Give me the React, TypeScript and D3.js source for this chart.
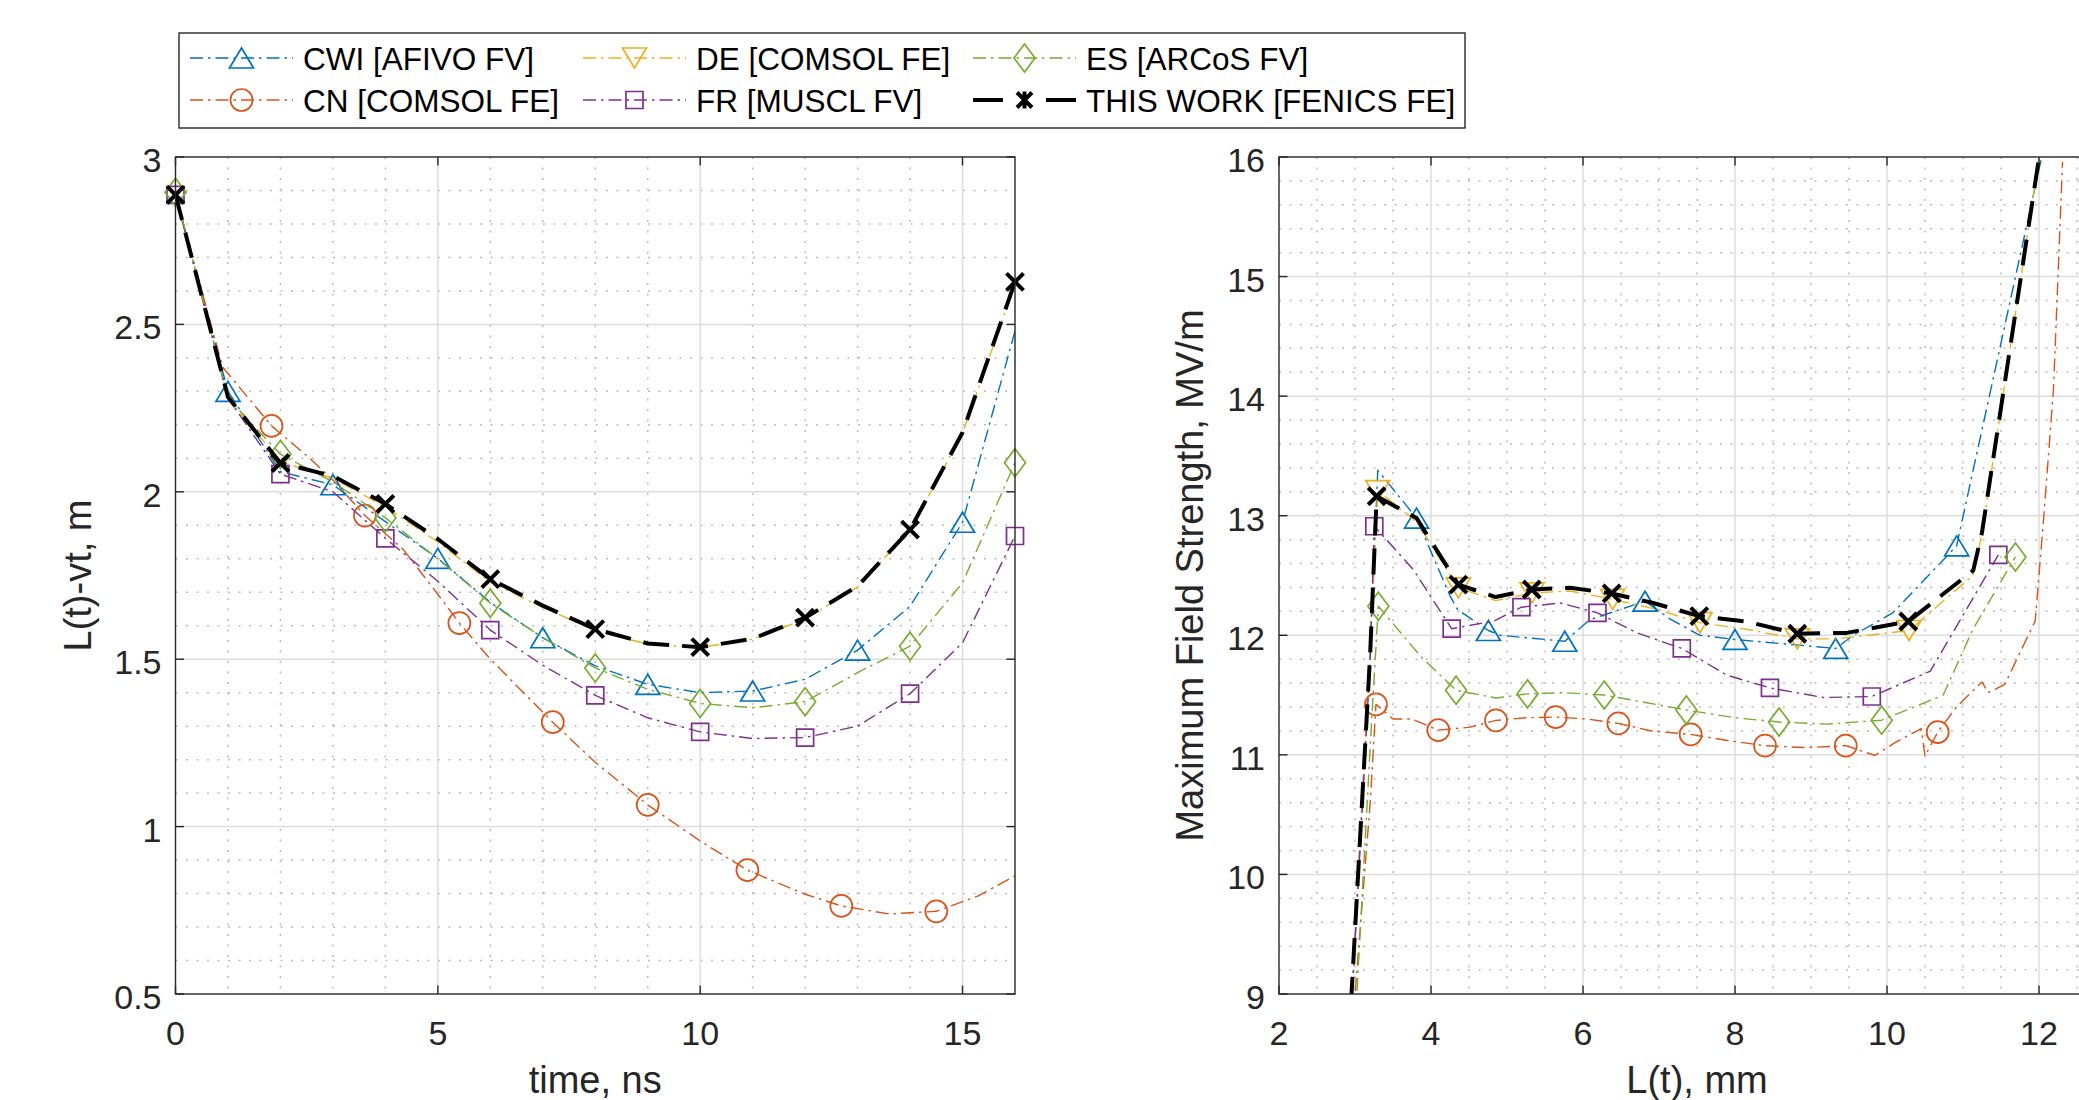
import React, { useEffect, useRef } from "react";
import * as d3 from "d3";

// ---------- left panel: L(t)-vt, m versus time, ns ----------
const timeNs = [0, 1, 2, 3, 4, 5, 6, 7, 8, 9, 10, 11, 12, 13, 14, 15, 16];
const cwiLeft = [2.887, 2.3, 2.06, 2.021, 1.911, 1.801, 1.67, 1.564, 1.48, 1.425, 1.4, 1.405, 1.44, 1.527, 1.658, 1.909, 2.48];
const deLeft = [2.887, 2.28, 2.09, 2.04, 1.955, 1.85, 1.73, 1.655, 1.585, 1.545, 1.535, 1.56, 1.62, 1.715, 1.885, 2.175, 2.62];
const frLeft = [2.887, 2.28, 2.053, 2.0, 1.861, 1.733, 1.587, 1.482, 1.392, 1.325, 1.283, 1.263, 1.266, 1.3, 1.397, 1.549, 1.868];
const esLeft = [2.895, 2.28, 2.112, 2.03, 1.922, 1.8, 1.667, 1.565, 1.474, 1.41, 1.368, 1.355, 1.373, 1.46, 1.539, 1.728, 2.087];
const workLeft = [2.887, 2.283, 2.086, 2.047, 1.964, 1.859, 1.739, 1.66, 1.59, 1.547, 1.536, 1.561, 1.624, 1.718, 1.887, 2.177, 2.627];
const cnTime = [0, 0.9, 1.83, 2.56, 3.02, 3.61, 4.34, 4.97, 5.41, 6.0, 7.19, 8.0, 9.0, 10.0, 10.9, 12.0, 12.69, 13.6, 14.5, 15.3, 16];
const cnLeft = [2.887, 2.372, 2.197, 2.1, 2.032, 1.929, 1.828, 1.7, 1.608, 1.5, 1.312, 1.192, 1.065, 0.957, 0.87, 0.798, 0.763, 0.739, 0.747, 0.793, 0.853];

const oddMarks = [1, 3, 5, 7, 9, 11, 13, 15];
const evenMarks = [0, 2, 4, 6, 8, 10, 12, 14, 16];
const cnLeftMarks = [2, 5, 8, 10, 12, 14, 16, 18];

// ---------- right panel: max field strength, MV/m versus L(t), mm ----------
const cwiL = [2.93, 3.2, 3.3, 3.81, 4.25, 4.35, 4.755, 4.91, 5.76, 6.09, 6.816, 7.16, 7.54, 8.0, 9.325, 9.557, 10.08, 10.917, 10.98, 12.07];
const cwiE = [8.6, 11.9, 13.38, 12.98, 12.33, 12.215, 12.04, 12.0, 11.95, 12.13, 12.285, 12.13, 12.0, 11.965, 11.89, 12.0, 12.19, 12.748, 12.935, 16.1];
const cwiMarks = [3, 6, 8, 10, 13, 14, 17];

const cnL = [2.95, 3.2, 3.276, 3.5, 3.75, 4.096, 4.5, 4.855, 5.25, 5.64, 6.05, 6.465, 6.9, 7.417, 7.9, 8.395, 8.95, 9.457, 9.84, 10.1, 10.45, 10.5, 10.667, 10.92, 11.25, 11.33, 11.55, 11.95, 12.06, 12.19, 12.31];
const cnE = [8.6, 10.6, 11.422, 11.3, 11.3, 11.207, 11.23, 11.288, 11.31, 11.316, 11.3, 11.263, 11.2, 11.171, 11.12, 11.077, 11.06, 11.077, 10.995, 11.1, 11.22, 10.99, 11.19, 11.405, 11.61, 11.52, 11.59, 12.12, 12.97, 14.05, 15.96];
const cnMarks = [2, 5, 7, 9, 11, 13, 15, 17, 22];

const deL = [2.93, 3.2, 3.3, 3.81, 4.36, 4.85, 5.33, 5.83, 6.39, 6.95, 7.54, 8.15, 8.82, 9.34, 10.29, 11.13, 11.25, 12.05];
const deE = [8.6, 11.9, 13.21, 12.95, 12.397, 12.29, 12.355, 12.37, 12.3, 12.22, 12.105, 12.05, 11.97, 11.97, 12.04, 12.5, 12.85, 16.2];
const deMarks = [2, 4, 6, 8, 10, 12, 14];

const frL = [2.93, 3.2, 3.254, 3.767, 4.272, 4.83, 5.19, 5.7, 6.19, 6.71, 7.3, 7.89, 8.46, 9.16, 9.8, 10.57, 11.465];
const frE = [8.6, 11.8, 12.912, 12.55, 12.055, 12.12, 12.235, 12.27, 12.188, 12.02, 11.89, 11.667, 11.56, 11.48, 11.488, 11.7, 12.673];
const frMarks = [2, 4, 6, 8, 10, 12, 14, 16];

const esL = [2.99, 3.22, 3.307, 3.855, 4.33, 4.86, 5.27, 5.74, 6.28, 6.84, 7.36, 8.0, 8.58, 9.21, 9.93, 10.74, 11.13, 11.69];
const esE = [8.6, 11.3, 12.243, 11.83, 11.54, 11.475, 11.51, 11.52, 11.5, 11.436, 11.375, 11.31, 11.275, 11.257, 11.29, 11.5, 12.05, 12.655];
const esMarks = [2, 4, 6, 8, 10, 12, 14, 17];

const workL = [2.92, 3.2, 3.285, 3.81, 4.36, 4.85, 5.325, 5.83, 6.377, 6.925, 7.53, 8.15, 8.82, 9.47, 10.28, 11.135, 11.25, 12.05];
const workE = [8.6, 11.85, 13.163, 12.98, 12.424, 12.32, 12.383, 12.397, 12.35, 12.27, 12.16, 12.115, 12.013, 12.02, 12.115, 12.543, 12.86, 16.2];
const workMarks = [2, 4, 6, 8, 10, 12, 14];

// ---------- ticks and labels ----------
const leftTicksX = [0, 5, 10, 15];
const leftTicksY = [0.5, 1, 1.5, 2, 2.5, 3];
const rightTicksX = [2, 4, 6, 8, 10, 12];
const rightTicksY = [9, 10, 11, 12, 13, 14, 15, 16];

const legendNames = ["CWI [AFIVO FV]", "CN [COMSOL FE]", "DE [COMSOL FE]", "FR [MUSCL FV]", "ES [ARCoS FV]", "THIS WORK [FENICS FE]"];

const FONT = "'Liberation Sans', Arial, Helvetica, sans-serif";
const AXIS = "#262626";
const BLUE = "#0072BD";
const ORANGE = "#D95319";
const YELLOW = "#EDB120";
const PURPLE = "#7E2F8E";
const GREEN = "#77AC30";
const DASHDOT = "13 5 2.5 5";
const DASH = "26 13";

function markerPath(kind: string): string {
  switch (kind) {
    case "triangle":
      return "M0,-10L12,10L-12,10Z";
    case "triangleDown":
      return "M0,10L12,-10L-12,-10Z";
    case "circle":
      return "M11,0A11,11 0 1,1 -11,0A11,11 0 1,1 11,0Z";
    case "square":
      return "M-8.5,-8.5H8.5V8.5H-8.5Z";
    case "diamond":
      return "M0,-14L10.5,0L0,14L-10.5,0Z";
    case "cross":
      return "M-8.5,-8.5L8.5,8.5M-8.5,8.5L8.5,-8.5";
    case "asterisk":
      return "M-7.5,-7.5L7.5,7.5M-7.5,7.5L7.5,-7.5M0,-8.5L0,8.5";
  }
  return "";
}

function drawMarker(g: any, kind: string, cx: number, cy: number, color: string, thick: boolean) {
  g.append("path")
    .attr("d", markerPath(kind))
    .attr("transform", `translate(${cx},${cy})`)
    .attr("fill", "none")
    .attr("stroke", color)
    .attr("stroke-width", thick ? 4 : 1.7)
    .attr("stroke-linejoin", "miter");
}

function steps(a: number, b: number, step: number) {
  const n = Math.round((b - a) / step);
  return d3.range(n + 1).map((i) => +(a + i * step).toFixed(6));
}

function drawPanel(svg: any, p: any) {
  const x = d3.scaleLinear().domain(p.xDomain).range([p.left, p.right]);
  const y = d3.scaleLinear().domain(p.yDomain).range([p.bottom, p.top]);

  svg
    .append("clipPath")
    .attr("id", p.id)
    .append("rect")
    .attr("x", p.left)
    .attr("y", p.top)
    .attr("width", p.right - p.left)
    .attr("height", p.bottom - p.top);

  const near = (a: number, list: number[]) => list.some((t) => Math.abs(t - a) < 1e-6);
  const inside = (v: number, dom: number[]) => v > dom[0] + 1e-6 && v < dom[1] - 1e-6;

  // minor grid (dotted)
  const grid = svg.append("g");
  steps(p.xDomain[0], p.xDomain[1], p.xMinor)
    .filter((v) => inside(v, p.xDomain) && !near(v, p.xTicks))
    .forEach((v) => {
      grid.append("line").attr("x1", x(v)).attr("x2", x(v)).attr("y1", p.top).attr("y2", p.bottom)
        .attr("stroke", "#bcbcbc").attr("stroke-width", 1.5).attr("stroke-dasharray", "2 8.5");
    });
  steps(p.yDomain[0], p.yDomain[1], p.yMinor)
    .filter((v) => inside(v, p.yDomain) && !near(v, p.yTicks))
    .forEach((v) => {
      grid.append("line").attr("x1", p.left).attr("x2", p.right).attr("y1", y(v)).attr("y2", y(v))
        .attr("stroke", "#bcbcbc").attr("stroke-width", 1.5).attr("stroke-dasharray", "2 8.5");
    });
  // major grid
  p.xTicks.filter((v: number) => inside(v, p.xDomain)).forEach((v: number) => {
    grid.append("line").attr("x1", x(v)).attr("x2", x(v)).attr("y1", p.top).attr("y2", p.bottom)
      .attr("stroke", "#dddddd").attr("stroke-width", 1.5);
  });
  p.yTicks.filter((v: number) => inside(v, p.yDomain)).forEach((v: number) => {
    grid.append("line").attr("x1", p.left).attr("x2", p.right).attr("y1", y(v)).attr("y2", y(v))
      .attr("stroke", "#dddddd").attr("stroke-width", 1.5);
  });

  // series: each line followed by its markers, in plot order
  const gen = d3
    .line<number[]>()
    .x((d) => x(d[0]))
    .y((d) => y(d[1]));
  p.series.forEach((s: any) => {
    const pts = s.xs.map((v: number, i: number) => [v, s.ys[i]]);
    svg
      .append("path")
      .attr("d", gen(pts))
      .attr("clip-path", `url(#${p.id})`)
      .attr("fill", "none")
      .attr("stroke", s.color)
      .attr("stroke-width", s.thick ? 4 : 1.4)
      .attr("stroke-dasharray", s.thick ? DASH : DASHDOT)
      .attr("stroke-linejoin", "round");
    const mg = svg.append("g");
    s.marks.forEach((i: number) => {
      drawMarker(mg, s.marker, x(s.xs[i]), y(s.ys[i]), s.color, !!s.thick);
    });
  });

  // box and ticks
  const axis = svg.append("g").attr("stroke", AXIS).attr("stroke-width", 1.4).attr("fill", "none");
  axis.append("rect").attr("x", p.left).attr("y", p.top).attr("width", p.right - p.left).attr("height", p.bottom - p.top);
  const tl = 8.5;
  p.xTicks.forEach((v: number) => {
    axis.append("line").attr("x1", x(v)).attr("x2", x(v)).attr("y1", p.bottom).attr("y2", p.bottom - tl);
    axis.append("line").attr("x1", x(v)).attr("x2", x(v)).attr("y1", p.top).attr("y2", p.top + tl);
  });
  p.yTicks.forEach((v: number) => {
    axis.append("line").attr("x1", p.left).attr("x2", p.left + tl).attr("y1", y(v)).attr("y2", y(v));
    axis.append("line").attr("x1", p.right).attr("x2", p.right - tl).attr("y1", y(v)).attr("y2", y(v));
  });

  // tick labels
  const labels = svg.append("g").attr("font-family", FONT).attr("font-size", 34).attr("fill", AXIS);
  p.xTicks.forEach((v: number) => {
    labels.append("text").attr("x", x(v)).attr("y", p.bottom + 51).attr("text-anchor", "middle").text(String(v));
  });
  p.yTicks.forEach((v: number) => {
    labels.append("text").attr("x", p.left - 14).attr("y", y(v) + 15).attr("text-anchor", "end").text(String(v));
  });

  // axis titles
  const titles = svg.append("g").attr("font-family", FONT).attr("font-size", 38).attr("fill", AXIS);
  titles.append("text").attr("x", (p.left + p.right) / 2).attr("y", 1093).attr("text-anchor", "middle").text(p.xLabel);
  titles
    .append("text")
    .attr("transform", `translate(${p.yLabelX},${(p.top + p.bottom) / 2}) rotate(-90)`)
    .attr("text-anchor", "middle")
    .text(p.yLabel);
}

function drawLegend(svg: any) {
  const box = { x: 179, y: 33, w: 1286, h: 95 };
  const g = svg.append("g");
  g.append("rect").attr("x", box.x).attr("y", box.y).attr("width", box.w).attr("height", box.h)
    .attr("fill", "#fff").attr("stroke", AXIS).attr("stroke-width", 1.4);
  const cols = [190, 583, 973];
  const textX = [303, 696, 1086];
  const rows = [58, 100];
  const entries = [
    { color: BLUE, marker: "triangle", thick: false },
    { color: ORANGE, marker: "circle", thick: false },
    { color: YELLOW, marker: "triangleDown", thick: false },
    { color: PURPLE, marker: "square", thick: false },
    { color: GREEN, marker: "diamond", thick: false },
    { color: "#000", marker: "asterisk", thick: true },
  ];
  entries.forEach((e, i) => {
    const c = Math.floor(i / 2);
    const r = i % 2;
    const x0 = cols[c];
    const yy = rows[r];
    g.append("line").attr("x1", x0).attr("x2", x0 + 103).attr("y1", yy).attr("y2", yy)
      .attr("stroke", e.color).attr("stroke-width", e.thick ? 4 : 1.4)
      .attr("stroke-dasharray", e.thick ? "30 43" : DASHDOT);
    drawMarker(g, e.marker, x0 + 51.5, yy, e.color, e.thick);
    g.append("text").attr("x", textX[c]).attr("y", yy + 12).attr("font-family", FONT).attr("font-size", 31.5)
      .attr("fill", "#000").text(legendNames[i]);
  });
}

const App = () => {
  const svgRef = useRef<SVGSVGElement>(null);

  useEffect(() => {
    const svg = d3.select(svgRef.current);
    svg.selectAll("*").remove();
    svg.append("rect").attr("width", 2079).attr("height", 1100).attr("fill", "#fff");

    drawPanel(svg, {
      id: "clip-left",
      left: 175.5,
      right: 1015,
      top: 157,
      bottom: 994,
      xDomain: [0, 16],
      yDomain: [0.5, 3],
      xTicks: leftTicksX,
      yTicks: leftTicksY,
      xMinor: 1,
      yMinor: 0.1,
      xLabel: "time, ns",
      yLabel: "L(t)-vt, m",
      yLabelX: 91,
      series: [
        { xs: timeNs, ys: cwiLeft, marks: oddMarks, color: BLUE, marker: "triangle" },
        { xs: cnTime, ys: cnLeft, marks: cnLeftMarks, color: ORANGE, marker: "circle" },
        { xs: timeNs, ys: deLeft, marks: [], color: YELLOW, marker: "triangleDown" },
        { xs: timeNs, ys: frLeft, marks: evenMarks, color: PURPLE, marker: "square" },
        { xs: timeNs, ys: esLeft, marks: evenMarks, color: GREEN, marker: "diamond" },
        { xs: timeNs, ys: workLeft, marks: evenMarks, color: "#000", marker: "cross", thick: true },
      ],
    });

    drawPanel(svg, {
      id: "clip-right",
      left: 1279,
      right: 2115,
      top: 157,
      bottom: 994,
      xDomain: [2, 13],
      yDomain: [9, 16],
      xTicks: rightTicksX,
      yTicks: rightTicksY,
      xMinor: 0.5,
      yMinor: 0.2,
      xLabel: "L(t), mm",
      yLabel: "Maximum Field Strength, MV/m",
      yLabelX: 1203,
      series: [
        { xs: cwiL, ys: cwiE, marks: cwiMarks, color: BLUE, marker: "triangle" },
        { xs: cnL, ys: cnE, marks: cnMarks, color: ORANGE, marker: "circle" },
        { xs: deL, ys: deE, marks: deMarks, color: YELLOW, marker: "triangleDown" },
        { xs: frL, ys: frE, marks: frMarks, color: PURPLE, marker: "square" },
        { xs: esL, ys: esE, marks: esMarks, color: GREEN, marker: "diamond" },
        { xs: workL, ys: workE, marks: workMarks, color: "#000", marker: "cross", thick: true },
      ],
    });

    drawLegend(svg);
  }, []);

  return (
    <svg
      ref={svgRef}
      width={2079}
      height={1100}
      style={{ position: "absolute", left: 0, top: 0, display: "block" }}
    />
  );
};

export default App;
